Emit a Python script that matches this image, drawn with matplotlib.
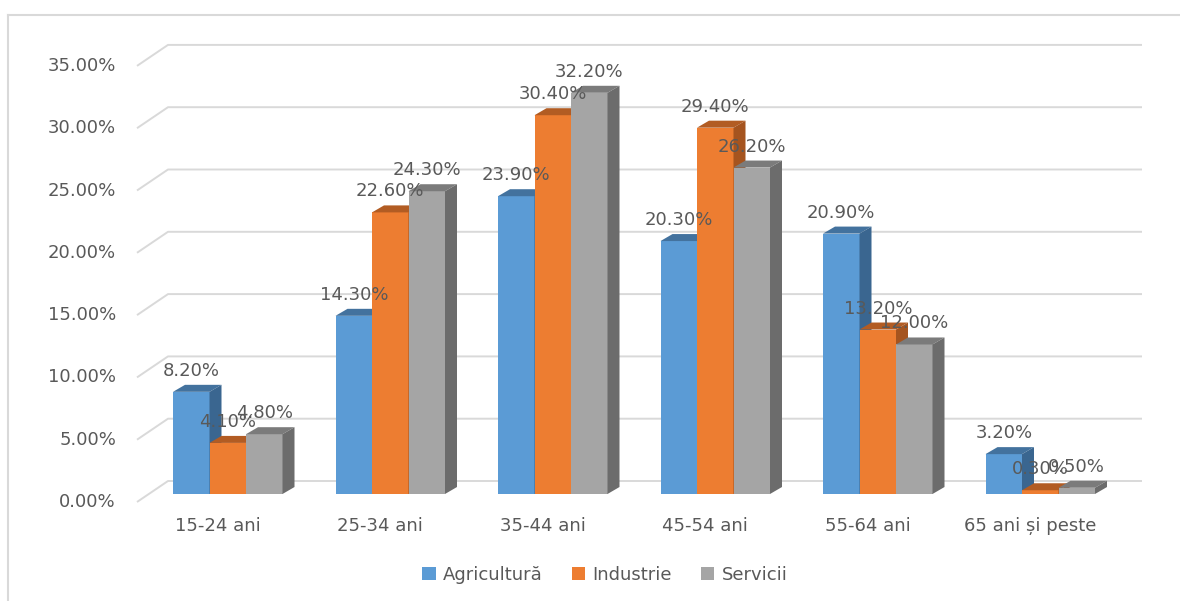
import matplotlib
matplotlib.use("Agg")
import matplotlib.pyplot as plt
from matplotlib.patches import Polygon, Patch
from matplotlib.lines import Line2D
import numpy as np

# data
categories = ["15-24 ani", "25-34 ani", "35-44 ani", "45-54 ani", "55-64 ani", "65 ani și peste"]
series_names = ["Agricultură", "Industrie", "Servicii"]
agricultura = [8.2, 14.3, 23.9, 20.3, 20.9, 3.2]
industrie = [4.1, 22.6, 30.4, 29.4, 13.2, 0.3]
servicii = [4.8, 24.3, 32.2, 26.2, 12.0, 0.5]
y_ticks = [0, 5, 10, 15, 20, 25, 30, 35]

front_colors = ["#5B9BD5", "#ED7D31", "#A5A5A5"]
top_colors = ["#43729E", "#B25C23", "#7B7B7B"]
side_colors = ["#3A6690", "#A5541F", "#6C6C6C"]
text_color = "#595959"
grid_color = "#D9D9D9"

W, H = 1180, 601
px_cat = 162.5     # pixels per category step
px_pct = 12.46     # pixels per percent
x0_px, y0_px = 227.75, 481.0

fig = plt.figure(figsize=(W / 100, H / 100), dpi=100)
ax = fig.add_axes([0, 0, 1, 1])
ax.set_xlim(-x0_px / px_cat, (W - x0_px) / px_cat)
ax.set_ylim((y0_px - H) / px_pct, y0_px / px_pct)
ax.axis("off")

# oblique projection of the chart box and of each bar
floor_dx, floor_dy = 31 / px_cat, 21 / px_pct
bar_dx, bar_dy = 12 / px_cat, 7 / px_pct
base = -13 / px_pct
bar_w = 36.5 / px_cat
wall_left = (168 - x0_px) / px_cat
wall_right = (1142 - x0_px) / px_cat

for v in y_ticks:
    ax.plot([wall_left - floor_dx, wall_left, wall_right], [v - floor_dy, v, v],
            color=grid_color, lw=1.4, zorder=1, solid_capstyle="butt")
    ax.text(wall_left - floor_dx - 21 / px_cat, v - floor_dy, f"{v:.2f}%",
            ha="right", va="center", fontsize=13, color=text_color)

values = [agricultura, industrie, servicii]
for s, vals in enumerate(values):
    for i, v in enumerate(vals):
        left = i - 1.5 * bar_w + s * bar_w
        right = left + bar_w
        top = base + v
        ax.bar(left, v, width=bar_w, bottom=base, align="edge",
               color=front_colors[s], zorder=2 + i * 0.01)
        ax.add_patch(Polygon([(left, top), (right, top), (right + bar_dx, top + bar_dy),
                              (left + bar_dx, top + bar_dy)], closed=True,
                             facecolor=top_colors[s], edgecolor="none", zorder=2 + i * 0.01))
        ax.add_patch(Polygon([(right, base), (right, top), (right + bar_dx, top + bar_dy),
                              (right + bar_dx, base + bar_dy)], closed=True,
                             facecolor=side_colors[s], edgecolor="none", zorder=2 + i * 0.01))

for s, vals in enumerate(values):
    for i, v in enumerate(vals):
        cx = i - 1.5 * bar_w + (s + 0.5) * bar_w
        ax.text(cx, base + v + floor_dy, f"{v:.2f}%", ha="center", va="center",
                fontsize=13, color=text_color, zorder=10)

for i, cat in enumerate(categories):
    ax.text(i - 10 / px_cat, (y0_px - 526) / px_pct, cat, ha="center", va="center",
            fontsize=13, color=text_color)

# chart area border (top and left edges)
fig.add_artist(Line2D([8 / W, 8 / W], [0, 1 - 15 / H], transform=fig.transFigure,
                      color=grid_color, lw=1.5))
fig.add_artist(Line2D([8 / W, 1], [1 - 15 / H, 1 - 15 / H], transform=fig.transFigure,
                      color=grid_color, lw=1.5))

handles = [Patch(facecolor=c, edgecolor="none") for c in front_colors]
fig.legend(handles, series_names, loc="center", bbox_to_anchor=(605 / W, 1 - 575 / H),
           ncol=3, frameon=False, fontsize=13, handlelength=0.75, handleheight=0.75,
           handletextpad=0.4, columnspacing=1.6, labelcolor=text_color)

fig.savefig("out.png", dpi=100)
